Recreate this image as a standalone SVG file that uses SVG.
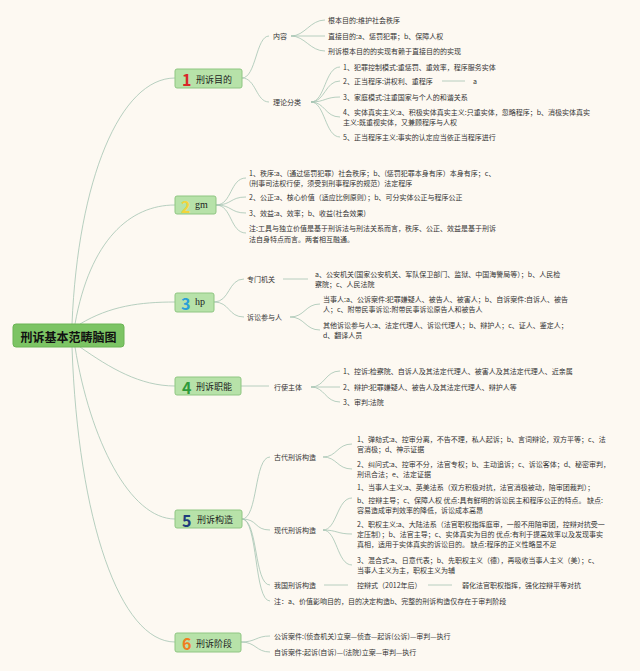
<svg xmlns="http://www.w3.org/2000/svg" width="640" height="671" viewBox="0 0 640 671">
<style>
text{font-family:"Noto Sans CJK SC","Noto Sans",sans-serif;dominant-baseline:central;}
.t{font-size:7px;fill:#333;}
.m{font-size:9px;fill:#222;}
.s{font-size:10px;fill:#222;font-family:"Liberation Serif",serif;}
.n{font-size:16px;font-weight:bold;}
.box{fill:#b7e2a9;stroke:#8fc682;stroke-width:1;}
.c{fill:none;stroke:#a5c4b2;stroke-width:0.8;}
</style>
<rect width="640" height="671" fill="#fdf9f2"/>
<g id="connectors">
<path class="c" d="M72,324 C78,180 120,78 175,78"/>
<path class="c" d="M75,324 C90,240 130,205 175,205"/>
<path class="c" d="M80,324 C110,306 140,302 175,302"/>
<path class="c" d="M80,347 C110,368 140,386 175,386"/>
<path class="c" d="M75,347 C90,440 130,519 175,519"/>
<path class="c" d="M72,347 C78,520 120,642 175,642"/>
<path class="c" d="M242,78 C256,78 256,36 269,36"/>
<path class="c" d="M242,78 C256,78 256,102 269,102"/>
<path class="c" d="M291,36 C305,36 310,20 325,20"/>
<path class="c" d="M291,36 L325,36"/>
<path class="c" d="M291,36 C305,36 310,51 325,51"/>
<path class="c" d="M311,102 C325,102 325,67 340,67"/>
<path class="c" d="M311,102 C325,102 325,81 340,81"/>
<path class="c" d="M311,102 C325,102 325,97 340,97"/>
<path class="c" d="M311,102 C325,102 325,117 340,117"/>
<path class="c" d="M311,102 C325,102 325,137 340,137"/>
<path class="c" d="M442,81 L465,81"/>
<path class="c" d="M216,205 C232,205 230,178 246,178"/>
<path class="c" d="M216,205 C232,205 230,197 246,197"/>
<path class="c" d="M216,205 C232,205 230,213 246,213"/>
<path class="c" d="M216,205 C232,205 230,233 246,233"/>
<path class="c" d="M214,302 C230,302 228,279 244,279"/>
<path class="c" d="M214,302 C230,302 228,317 244,317"/>
<path class="c" d="M283,279 L308,279"/>
<path class="c" d="M290,317 C305,317 305,304 320,304"/>
<path class="c" d="M290,317 C305,317 305,330 320,330"/>
<path class="c" d="M241,386 L269,386"/>
<path class="c" d="M311,387 C325,387 325,371 340,371"/>
<path class="c" d="M311,387 L340,387"/>
<path class="c" d="M311,387 C325,387 325,402 340,402"/>
<path class="c" d="M242,519 C258,519 254,457 270,457"/>
<path class="c" d="M242,519 C258,519 254,530 270,530"/>
<path class="c" d="M242,519 C258,519 254,585 270,585"/>
<path class="c" d="M242,519 C258,519 254,601 270,601"/>
<path class="c" d="M323,457 C337,457 337,444 352,444"/>
<path class="c" d="M323,457 C337,457 337,469 352,469"/>
<path class="c" d="M323,530 C337,530 337,498 352,498"/>
<path class="c" d="M323,530 C337,530 337,534 352,534"/>
<path class="c" d="M323,530 C337,530 337,565 352,565"/>
<path class="c" d="M324,585 L348,585"/>
<path class="c" d="M428,585 L452,585"/>
<path class="c" d="M241,642 C256,642 256,636 270,636"/>
<path class="c" d="M241,642 C256,642 256,652 270,652"/>
</g>
<g id="root">
<rect x="13" y="324" width="111" height="23" rx="3" fill="#7cc464" stroke="#6bb455"/>
<text x="68.5" y="336" text-anchor="middle" style="font-size:12px;font-weight:bold;fill:#111;">刑诉基本范畴脑图</text>
</g>
<g id="n1">
<rect class="box" x="175" y="69" width="67" height="19" rx="2"/>
<text class="n" x="182" y="79" fill="#d9262a">1</text>
<text class="m" x="196" y="79">刑诉目的</text>
</g>
<g id="n1a"><text class="t" x="273" y="36">内容</text></g>
<g id="n1a1"><text class="t" x="328" y="20">根本目的:维护社会秩序</text></g>
<g id="n1a2"><text class="t" x="328" y="36">直接目的:a、惩罚犯罪；b、保障人权</text></g>
<g id="n1a3"><text class="t" x="328" y="51">刑诉根本目的的实现有赖于直接目的的实现</text></g>
<g id="n1b"><text class="t" x="273" y="102">理论分类</text></g>
<g id="n1b1"><text class="t" x="343" y="67">1、犯罪控制模式:重惩罚、重效率，程序服务实体</text></g>
<g id="n1b2"><text class="t" x="343" y="81">2、正当程序:讲权利、重程序</text></g>
<g id="n1b2a"><text class="t" x="473" y="81">a</text></g>
<g id="n1b3"><text class="t" x="343" y="97">3、家庭模式:注重国家与个人的和谐关系</text></g>
<g id="n1b4"><text class="t" x="343" y="112">4、实体真实主义:a、积极实体真实主义:只重实体，忽略程序；b、消极实体真实</text><text class="t" x="343" y="122">主义:既重视实体，又兼顾程序与人权</text></g>
<g id="n1b5"><text class="t" x="343" y="137">5、正当程序主义:事实的认定应当依正当程序进行</text></g>
<g id="n2">
<rect class="box" x="175" y="196" width="41" height="18" rx="2"/>
<text class="n" x="181" y="205.5" fill="#f2d43c">2</text>
<text class="s" x="195" y="204">gm</text>
</g>
<g id="n2a"><text class="t" x="249" y="173">1、秩序:a、(通过惩罚犯罪）社会秩序；b、(惩罚犯罪本身有序）本身有序；c、</text><text class="t" x="249" y="183">(刑事司法权行使，须受到刑事程序的规范）法定程序</text></g>
<g id="n2b"><text class="t" x="249" y="197">2、公正:a、核心价值（适应比例原则）；b、可分实体公正与程序公正</text></g>
<g id="n2c"><text class="t" x="249" y="213">3、效益:a、效率；b、收益(社会效果)</text></g>
<g id="n2d"><text class="t" x="249" y="228">注:工具与独立价值是基于刑诉法与刑法关系而言，秩序、公正、效益是基于刑诉</text><text class="t" x="249" y="239">法自身特点而言。两者相互融通。</text></g>
<g id="n3">
<rect class="box" x="175" y="293" width="39" height="19" rx="2"/>
<text class="n" x="181" y="303" fill="#2a9fd8">3</text>
<text class="s" x="195" y="301">hp</text>
</g>
<g id="n3a"><text class="t" x="247" y="279">专门机关</text></g>
<g id="n3a1"><text class="t" x="315" y="274">a、公安机关(国家公安机关、军队保卫部门、监狱、中国海警局等）；b、人民检</text><text class="t" x="315" y="284">察院；c、人民法院</text></g>
<g id="n3b"><text class="t" x="247" y="317">诉讼参与人</text></g>
<g id="n3b1"><text class="t" x="323" y="299">当事人:a、公诉案件:犯罪嫌疑人、被告人、被害人；b、自诉案件:自诉人、被告</text><text class="t" x="323" y="309">人；c、附带民事诉讼:附带民事诉讼原告人和被告人</text></g>
<g id="n3b2"><text class="t" x="323" y="325">其他诉讼参与人:a、法定代理人、诉讼代理人；b、辩护人；c、证人、鉴定人；</text><text class="t" x="323" y="335">d、翻译人员</text></g>
<g id="n4">
<rect class="box" x="175" y="377" width="66" height="18" rx="2"/>
<text class="n" x="182" y="386.5" fill="#2f9a3a">4</text>
<text class="m" x="196" y="386.5">刑诉职能</text>
</g>
<g id="n4a"><text class="t" x="274" y="387">行使主体</text></g>
<g id="n4a1"><text class="t" x="343" y="371">1、控诉:检察院、自诉人及其法定代理人、被害人及其法定代理人、近亲属</text></g>
<g id="n4a2"><text class="t" x="343" y="387">2、辩护:犯罪嫌疑人、被告人及其法定代理人、辩护人等</text></g>
<g id="n4a3"><text class="t" x="343" y="402">3、审判:法院</text></g>
<g id="n5">
<rect class="box" x="175" y="510" width="67" height="18" rx="2"/>
<text class="n" x="182" y="519.5" fill="#1f3b7c">5</text>
<text class="m" x="197" y="519.5">刑诉构造</text>
</g>
<g id="n5a"><text class="t" x="274" y="457">古代刑诉构造</text></g>
<g id="n5a1"><text class="t" x="357" y="439">1、弹劾式:a、控审分离，不告不理，私人起诉；b、言词辩论，双方平等；c、法</text><text class="t" x="357" y="449">官消极；d、神示证据</text></g>
<g id="n5a2"><text class="t" x="357" y="464">2、纠问式:a、控审不分，法官专权；b、主动追诉；c、诉讼客体；d、秘密审判，</text><text class="t" x="357" y="474">刑讯合法；e、法定证据</text></g>
<g id="n5b"><text class="t" x="274" y="530">现代刑诉构造</text></g>
<g id="n5b1"><text class="t" x="357" y="487">1、当事人主义:a、英美法系（双方积极对抗，法官消极被动，陪审团裁判）；</text><text class="t" x="357" y="500">b、控辩主导；c、保障人权 优点:具有鲜明的诉讼民主和程序公正的特点。 缺点:</text><text class="t" x="357" y="510">容易造成审判效率的降低，诉讼成本高昂</text></g>
<g id="n5b2"><text class="t" x="357" y="524">2、职权主义:a、大陆法系（法官职权指挥庭审，一般不用陪审团，控辩对抗受一</text><text class="t" x="357" y="534">定压制）；b、法官主导；c、实体真实为目的 优点:有利于提高效率以及发现事实</text><text class="t" x="357" y="544">真相，适用于实体真实的诉讼目的。 缺点:程序的正义性略显不足</text></g>
<g id="n5b3"><text class="t" x="357" y="560">3、混合式:a、日意代表；b、先职权主义（德），再吸收当事人主义（美）；c、</text><text class="t" x="357" y="570">当事人主义为主，职权主义为辅</text></g>
<g id="n5c"><text class="t" x="274" y="585">我国刑诉构造</text></g>
<g id="n5c1"><text class="t" x="357" y="585">控辩式（2012年后）</text></g>
<g id="n5c2"><text class="t" x="462" y="585">弱化法官职权指挥，强化控辩平等对抗</text></g>
<g id="n5d"><text class="t" x="274" y="601">注：a、价值影响目的，目的决定构造b、完整的刑诉构造仅存在于审判阶段</text></g>
<g id="n6">
<rect class="box" x="175" y="633" width="66" height="19" rx="2"/>
<text class="n" x="182" y="643" fill="#f07e22">6</text>
<text class="m" x="196" y="643">刑诉阶段</text>
</g>
<g id="n6a"><text class="t" x="274" y="636">公诉案件:(侦查机关)立案—侦查—起诉(公诉)—审判—执行</text></g>
<g id="n6b"><text class="t" x="274" y="652">自诉案件:起诉(自诉)—(法院)立案—审判—执行</text></g>
</svg>
